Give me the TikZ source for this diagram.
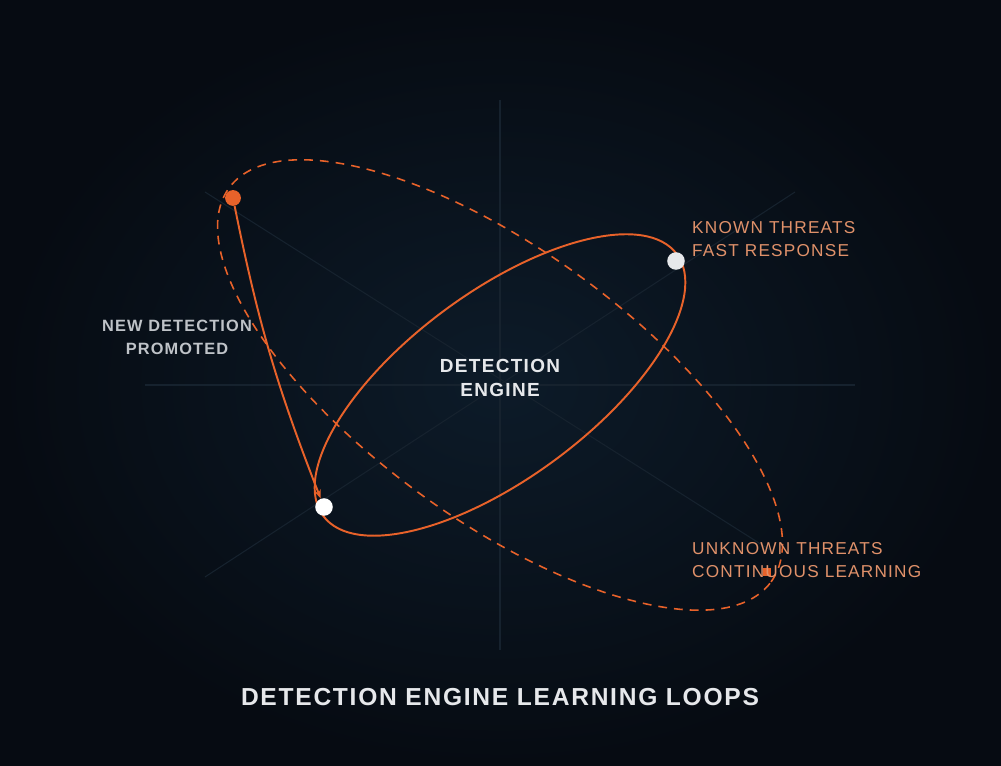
\documentclass[tikz,border=0pt]{standalone}
\usepackage{fontspec}
\setmainfont{Liberation Sans}
\newfontfamily\spaced[LetterSpace=7]{Liberation Sans}
\usetikzlibrary{arrows.meta}
\definecolor{bgin}{HTML}{0D1B29}
\definecolor{bgout}{HTML}{060B12}
\definecolor{gridc}{HTML}{16222E}
\definecolor{loopc}{HTML}{E8622A}
\definecolor{warmtxt}{HTML}{E0916A}
\definecolor{greytxt}{HTML}{BFC3C8}
\definecolor{whitetxt}{HTML}{E6E8EB}
\tikzset{
  gridline/.style={draw=gridc, line width=0.6pt},
  loopline/.style={draw=loopc, line width=1.1pt},
  dashloop/.style={draw=loopc, line width=0.9pt, dash pattern=on 5pt off 4pt},
  label/.style={font=\spaced\fontsize{9.8}{12}\selectfont, align=left, anchor=west},
  dot/.style={circle, inner sep=0pt, minimum size=7pt}
}
\begin{document}
\begin{tikzpicture}[x=0.02cm, y=0.02cm]
\useasboundingbox (0,0) rectangle (1001,766);
\shade[inner color=bgin, outer color=bgout] (0,0) rectangle (1001,766);

% grid
\coordinate (C) at (500,381);
\draw[gridline] (500,666) -- (500,116);
\draw[gridline] (145,381) -- (855,381);
\draw[gridline] (205,189) -- (795,574);
\draw[gridline] (205,574) -- (770,216);

% loops
\draw[dashloop, rotate around={-36:(C)}] (C) ellipse [x radius=335, y radius=135];
\draw[loopline, rotate around={36.5:(C)}] (C) ellipse [x radius=220, y radius=93];

% markers
\node[dot, fill=loopc, minimum size=9pt] (new) at (233,568) {};
\node[dot, fill=white, minimum size=10pt] (low) at (324,259) {};
\node[dot, fill=whitetxt, minimum size=10pt] (known) at (676,505) {};
\node[rectangle, fill=loopc, inner sep=0pt, minimum size=5pt] (unknown) at (767,194) {};
\draw[loopline, -{Stealth[length=5pt]}] (new) to[bend right=5] (low);

% texts
\node[label, text=warmtxt] (kt) at (686,527) {KNOWN THREATS\\[1pt]FAST RESPONSE};
\node[label, text=warmtxt] (ut) at (686,206) {UNKNOWN THREATS\\[1pt]CONTINUOUS LEARNING};
\node[label, text=greytxt, align=center, anchor=center, font=\spaced\bfseries\fontsize{9.3}{12}\selectfont] (nd) at (177,429) {NEW DETECTION\\[1pt]PROMOTED};
\node[font=\spaced\bfseries\fontsize{10.8}{13}\selectfont, text=whitetxt, align=center] (eng) at (500,388) {DETECTION\\[1pt]ENGINE};
\node[font=\spaced\bfseries\fontsize{14}{16}\selectfont, text=whitetxt] (title) at (500,69) {DETECTION ENGINE LEARNING LOOPS};
\end{tikzpicture}
\end{document}
